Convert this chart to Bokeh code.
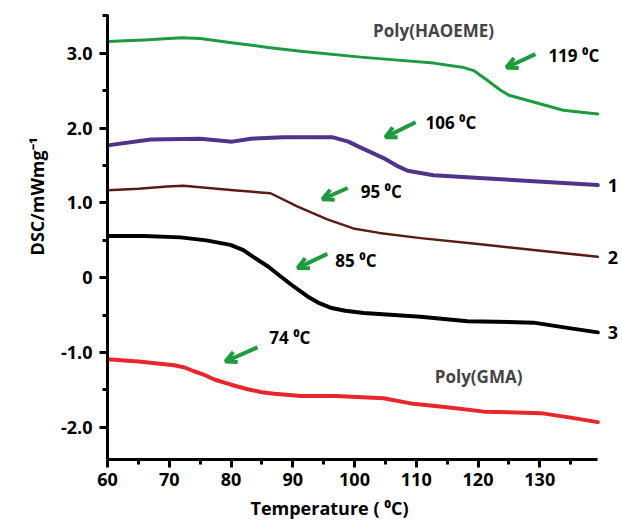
from bokeh.plotting import figure
from bokeh.models import (Range1d, FixedTicker, PrintfTickFormatter, Label,
                          Arrow, OpenHead, Title)
from bokeh.embed import file_html
from bokeh.resources import INLINE

# DSC traces: temperature (deg C) vs heat flow (mW/mg), curves offset vertically
t_haoeme = [60, 66, 72, 75, 80.4, 86, 91.3, 101, 107, 112.8, 117.7, 119.3, 121.5, 123.6, 125, 129, 133.8, 139.4]
dsc_haoeme = [3.16, 3.18, 3.21, 3.20, 3.14, 3.08, 3.03, 2.95, 2.91, 2.87, 2.81, 2.77, 2.64, 2.51, 2.44, 2.35, 2.24, 2.19]

t_1 = [60, 67, 75, 80.2, 83.2, 88.5, 96.4, 99, 101, 102.6, 104.7, 106.8, 108.6, 112.8, 120.9, 129, 139.4]
dsc_1 = [1.77, 1.85, 1.86, 1.82, 1.86, 1.88, 1.88, 1.82, 1.74, 1.68, 1.60, 1.50, 1.43, 1.37, 1.33, 1.29, 1.24]

t_2 = [60, 65, 69.7, 72.3, 80.4, 86.4, 90.8, 95.6, 99.8, 104, 110.7, 120, 129, 139.4]
dsc_2 = [1.17, 1.19, 1.22, 1.23, 1.17, 1.13, 0.95, 0.78, 0.66, 0.60, 0.53, 0.45, 0.37, 0.28]

t_3 = [60, 66, 71.8, 76, 79.9, 82, 83.6, 86, 88, 90.2, 92.4, 94.3, 96.1, 98.5, 101.5, 110.7, 118.3, 129, 134.5, 139.4]
dsc_3 = [0.56, 0.56, 0.54, 0.50, 0.44, 0.37, 0.28, 0.15, 0.02, -0.12, -0.25, -0.34, -0.40, -0.44, -0.47, -0.52, -0.58, -0.60, -0.67, -0.73]

t_gma = [60, 65, 70.8, 72.5, 74, 75.7, 77.3, 80, 82.7, 85, 87, 91.3, 97, 104.7, 109.1, 115, 121, 130.2, 135, 139.4]
dsc_gma = [-1.09, -1.12, -1.17, -1.20, -1.25, -1.30, -1.36, -1.43, -1.49, -1.53, -1.55, -1.58, -1.58, -1.61, -1.68, -1.73, -1.79, -1.81, -1.87, -1.93]

x_ticks = [60, 70, 80, 90, 100, 110, 120, 130]
y_ticks = [-2, -1, 0, 1, 2, 3]

# glass transition notes: (text, text x, text y, arrow tail x, tail y, head x, head y)
tg_notes = [
    ("119  \u2070C", 131.4, 2.97, 129.3, 2.99, 124.6, 2.81),
    ("106 \u2070C", 111.5, 2.07, 109.9, 2.08, 105.0, 1.88),
    ("95  \u2070C", 101.0, 1.16, 98.9, 1.20, 94.8, 1.05),
    ("85  \u2070C", 96.9, 0.23, 95.6, 0.32, 90.8, 0.13),
    ("74  \u2070C", 86.2, -0.80, 84.3, -0.93, 79.1, -1.12),
]

FONT = "Open Sans"
GREEN = "#1e9a40"

# frame runs to the right page edge so the curve numbers fit; the x axis line
# itself stops at the last data temperature
p = figure(width=622, height=524, output_backend="svg", toolbar_location=None,
           x_range=Range1d(60, 143.4), y_range=Range1d(-2.43, 3.52),
           min_border_left=107, min_border_right=0, min_border_top=14,
           min_border_bottom=64)
p.outline_line_color = None
p.background_fill_color = "white"
p.border_fill_color = "white"
p.xgrid.visible = False
p.ygrid.visible = False

p.xaxis.ticker = FixedTicker(ticks=x_ticks, minor_ticks=[v + 5 for v in x_ticks])
p.xaxis.bounds = (60, 139.4)
p.yaxis.ticker = FixedTicker(ticks=y_ticks,
                             minor_ticks=[v + 0.5 for v in y_ticks])
p.yaxis.formatter = PrintfTickFormatter(format="%.1f")
p.yaxis.major_label_overrides = {0: "0"}

for ax in (p.xaxis[0], p.yaxis[0]):
    ax.axis_line_width = 3
    ax.axis_line_color = "black"
    ax.major_tick_line_width = 3
    ax.major_tick_in = 0
    ax.major_tick_out = 8
    ax.minor_tick_line_width = 3
    ax.minor_tick_in = 0
    ax.minor_tick_out = 5
    ax.major_label_text_font = FONT
    ax.major_label_text_font_style = "bold"
    ax.major_label_text_font_size = "18px"
    ax.major_label_text_color = "black"

p.xaxis.major_label_standoff = 5
p.yaxis.major_label_standoff = 7

# axis titles as side titles so they can sit off-centre
title_style = dict(text_font=FONT, text_font_style="bold",
                   text_font_size="18px", text_color="black")
p.add_layout(Title(text="DSC/mWmg\u207b\u00b9", align="right", offset=123,
                   standoff=14, vertical_align="top", **title_style), "left")
p.add_layout(Title(text="Temperature ( \u2070C)", align="left", offset=143,
                   **title_style), "below")

common = dict(line_join="round", line_cap="round")
p.line(t_haoeme, dsc_haoeme, line_color=GREEN, line_width=3, **common)
p.line(t_1, dsc_1, line_color="#4e3589", line_width=4, **common)
p.line(t_2, dsc_2, line_color="#5c1c16", line_width=2.5, **common)
p.line(t_3, dsc_3, line_color="black", line_width=4, **common)
p.line(t_gma, dsc_gma, line_color="#e8262b", line_width=4, **common)

for text, tx, ty, xs, ys, xe, ye in tg_notes:
    p.add_layout(Arrow(x_start=xs, y_start=ys, x_end=xe, y_end=ye,
                       line_color=GREEN, line_width=4,
                       end=OpenHead(size=11, line_color=GREEN, line_width=4)))
    p.add_layout(Label(x=tx, y=ty, text=text, text_font=FONT,
                       text_font_style="bold", text_font_size="17px",
                       text_baseline="middle", text_color="black"))

p.add_layout(Label(x=112.8, y=3.31, text="Poly(HAOEME)", text_font=FONT,
                   text_font_style="bold", text_font_size="17px",
                   text_align="center", text_baseline="middle"))
p.add_layout(Label(x=120.1, y=-1.32, text="Poly(GMA)", text_font=FONT,
                   text_font_style="bold", text_font_size="17px",
                   text_align="center", text_baseline="middle"))

for name, yv in (("1", 1.23), ("2", 0.27), ("3", -0.73)):
    p.add_layout(Label(x=141.0, y=yv, text=name, text_font=FONT,
                       text_font_style="bold", text_font_size="18px",
                       text_baseline="middle", text_color="black"))

open("out.html", "w").write(file_html(p, INLINE))
